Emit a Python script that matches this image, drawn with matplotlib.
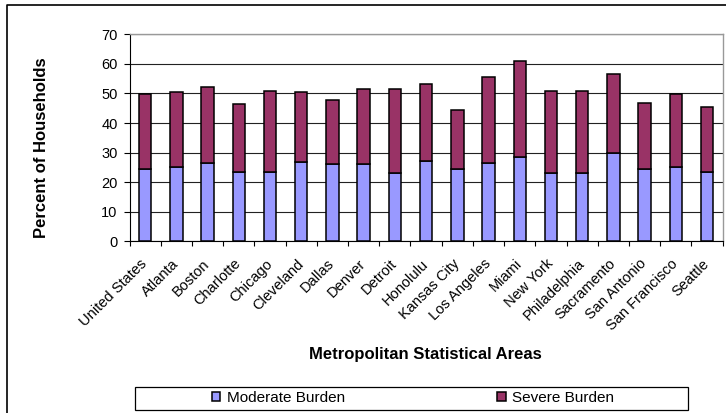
import numpy as np
import matplotlib.pyplot as plt
from matplotlib.lines import Line2D
from matplotlib.patches import Rectangle
from matplotlib.transforms import ScaledTranslation

plt.rcParams['font.family'] = ['Liberation Sans', 'DejaVu Sans']

# data
areas = ["United States", "Atlanta", "Boston", "Charlotte", "Chicago", "Cleveland",
         "Dallas", "Denver", "Detroit", "Honolulu", "Kansas City", "Los Angeles",
         "Miami", "New York", "Philadelphia", "Sacramento", "San Antonio",
         "San Francisco", "Seattle"]
moderate = [24.5, 25.2, 26.4, 23.6, 23.6, 26.9, 26.0, 26.0, 23.0, 27.0,
            24.6, 26.4, 28.5, 23.0, 23.0, 29.9, 24.5, 25.2, 23.6]
total = [49.8, 50.4, 52.2, 46.3, 50.8, 50.4, 47.9, 51.6, 51.6, 53.2,
         44.4, 55.5, 60.9, 50.7, 50.7, 56.6, 46.9, 49.8, 45.4]
severe = [t - m for t, m in zip(total, moderate)]

W, H = 726, 413
fig = plt.figure(figsize=(W / 100, H / 100), dpi=100)
ax = fig.add_axes([129.5 / W, 1 - 241.3 / H, (722.7 - 129.5) / W, (241.3 - 34.3) / H])

x = np.arange(len(areas))
w = 0.40
b1 = ax.bar(x, moderate, w, color='#9999ff', edgecolor='black', linewidth=1.1,
            label='Moderate Burden', zorder=3)
b2 = ax.bar(x, severe, w, bottom=moderate, color='#993366', edgecolor='black',
            linewidth=1.1, label='Severe Burden', zorder=3)

ax.set_xlim(-0.5, len(areas) - 0.5)
ax.set_ylim(0, 70)
ax.set_yticks(range(0, 71, 10))
ax.tick_params(axis='y', labelsize=10.5, length=4.5, width=0.8, direction='out', pad=4)

# ticks between categories, labels under bars
ax.set_xticks(np.arange(-0.5, len(areas), 1.0))
ax.set_xticklabels([])
ax.set_xticks(x, minor=True)
ax.set_xticklabels(areas, minor=True, rotation=45, ha='right', rotation_mode='anchor',
                   fontsize=10.5)
ax.tick_params(axis='x', which='major', length=3.5, width=0.8, direction='out')
ax.tick_params(axis='x', which='minor', length=0, pad=11)
shift = ScaledTranslation(-5 / 100, 0, fig.dpi_scale_trans)
for lab in ax.get_xticklabels(minor=True):
    lab.set_transform(lab.get_transform() + shift)

ax.grid(axis='y', color='#222222', linewidth=0.8, zorder=0)
for s in ['top', 'right']:
    ax.spines[s].set_color('#999999')
    ax.spines[s].set_linewidth(1.0)
for s in ['left', 'bottom']:
    ax.spines[s].set_color('black')

fig.text(41.7 / W, 1 - 148 / H, 'Percent of Households', rotation=90, ha='center',
         va='center', fontsize=12, fontweight='bold')
fig.text(425.5 / W, 1 - 354 / H, 'Metropolitan Statistical Areas', ha='center',
         va='center', fontsize=12, fontweight='bold')

# legend box and entries
fig.patches.append(Rectangle((135 / W, 1 - 410 / H), (688 - 135) / W, (410 - 387) / H,
                             transform=fig.transFigure, fill=False, edgecolor='black',
                             linewidth=0.9))
fig.legend(handles=[b1, b2], loc='center', bbox_to_anchor=(413 / W, 1 - 398 / H),
           ncol=2, fontsize=11, frameon=False, columnspacing=10, handlelength=0.55,
           handleheight=0.55, handletextpad=0.4, borderpad=0)

# chart area border (left and top visible)
fig.add_artist(Line2D([7 / W, 7 / W, 1.0], [0.0, 1 - 5 / H, 1 - 5 / H],
                      transform=fig.transFigure, color='black', linewidth=1.2))

fig.savefig('out.png', dpi=100)
